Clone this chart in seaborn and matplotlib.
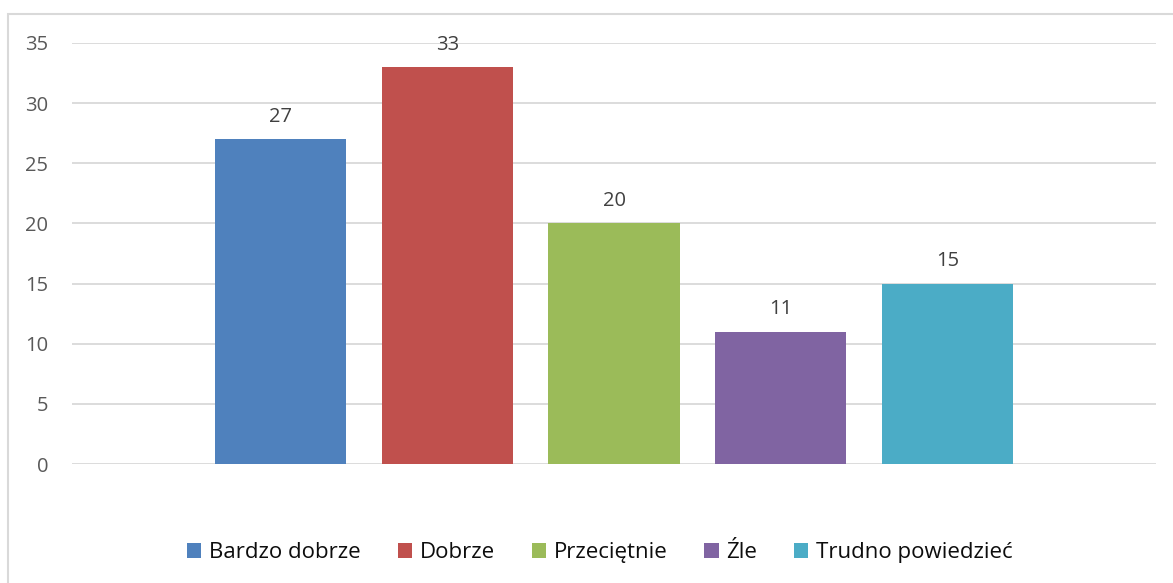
import matplotlib
matplotlib.use("Agg")
import matplotlib.pyplot as plt
import seaborn as sns
from matplotlib.patches import Rectangle

# data
categories = ["Bardzo dobrze", "Dobrze", "Przeciętnie", "Źle", "Trudno powiedzieć"]
values = [27, 33, 20, 11, 15]
colors = ["#4F81BD", "#C0504D", "#9BBB59", "#8064A2", "#4BACC6"]
y_ticks = [0, 5, 10, 15, 20, 25, 30, 35]

sns.set_theme(style="white")
plt.rcParams["font.family"] = ["Open Sans", "DejaVu Sans"]

fig = plt.figure(figsize=(11.73, 5.83), dpi=100)
ax = fig.add_axes([72 / 1173, 1 - 464 / 583, (1156 - 72) / 1173, (464 - 43) / 583])

sns.barplot(x=categories, y=values, hue=categories, palette=colors,
            width=0.786, saturation=1, linewidth=0, ax=ax, legend=True)

for cont in ax.containers:
    ax.bar_label(cont, padding=9, fontsize=14.5, color="#404040")

ax.set_xlim(-1.25, 5.25)
ax.set_ylim(0, 35)
ax.set_yticks(y_ticks)
ax.set_xticks([])
ax.set_xlabel("")
ax.set_ylabel("")
ax.tick_params(axis="y", length=0, pad=17, labelsize=14.5, labelcolor="#595959")
ax.yaxis.grid(True, color="#D9D9D9", linewidth=1.3)
ax.set_axisbelow(True)
for s in ax.spines.values():
    s.set_visible(False)

sns.move_legend(ax, "center", bbox_to_anchor=(0.487, -0.21), ncol=5,
                frameon=False, title=None, fontsize=16,
                handlelength=0.65, handleheight=0.65, handletextpad=0.35,
                columnspacing=1.65, labelcolor="#0D0D0D")

# outer chart border
fig.patches.append(Rectangle((8 / 1173, -0.01), 1.02, 1 - 14 / 583 + 0.01,
                             transform=fig.transFigure, fill=False,
                             edgecolor="#D9D9D9", linewidth=1.5))

fig.savefig("out.png", dpi=100)
